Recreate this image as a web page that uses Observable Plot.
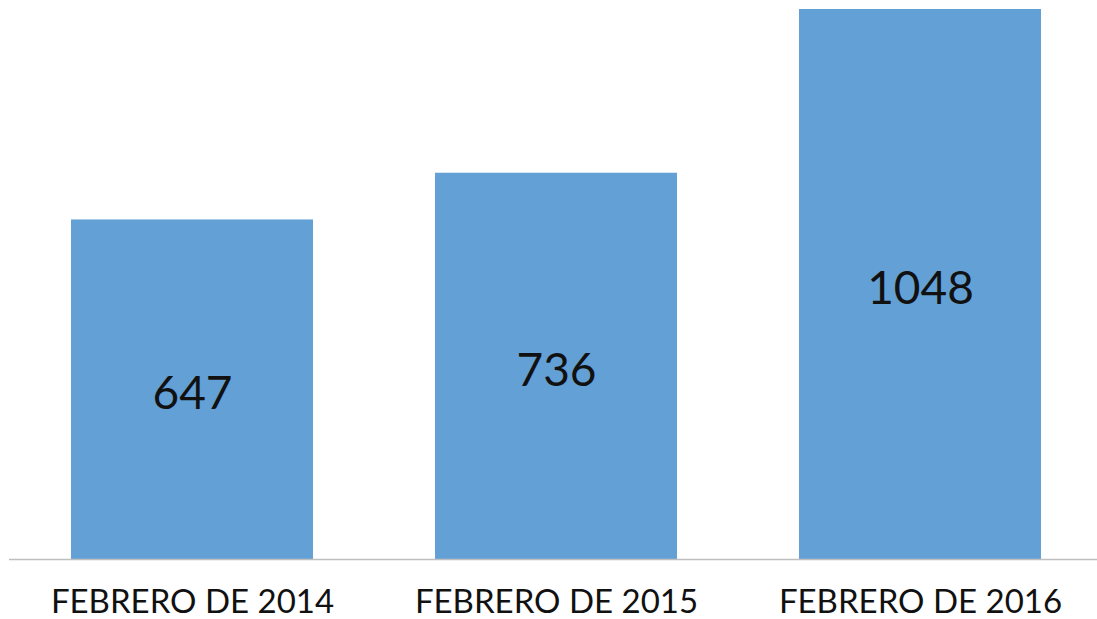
<!DOCTYPE html>
<html>
<head>
<meta charset="utf-8">
<script src="https://cdn.jsdelivr.net/npm/d3@7"></script>
<script src="https://cdn.jsdelivr.net/npm/@observablehq/plot@0.6"></script>
<style>
  html, body { margin: 0; padding: 0; background: #fff; }
  #chart svg { display: block; }
</style>
</head>
<body>
<div id="chart"></div>
<script>
const categories = ["FEBRERO DE 2014", "FEBRERO DE 2015", "FEBRERO DE 2016"];
const values = [647, 736, 1048];

const data = categories.map((c, i) => ({category: c, value: values[i]}));

const chart = Plot.plot({
  width: 1097,
  height: 619,
  marginTop: 9,
  marginBottom: 60,
  marginLeft: 9,
  marginRight: 0,
  style: {fontFamily: "Lato, 'DejaVu Sans', sans-serif", background: "#fff"},
  x: {domain: categories, range: [10, 1102], paddingInner: 0.335, paddingOuter: 0.1675, label: null},
  y: {domain: [0, 1048], axis: null},
  marks: [
    Plot.barY(data, {x: "category", y: "value", fill: "#62A0D6"}),
    Plot.ruleY([0], {stroke: "#BFBFBF", strokeWidth: 1.5}),
    Plot.text(data, {x: "category", y: d => d.value / 2, text: d => String(d.value), fontSize: 46, fill: "#111", dy: 5}),
    Plot.axisX({tickSize: 0, tickPadding: 30, fontSize: 33, fill: "#111", label: null})
  ]
});
document.getElementById("chart").appendChild(chart);
</script>
</body>
</html>
